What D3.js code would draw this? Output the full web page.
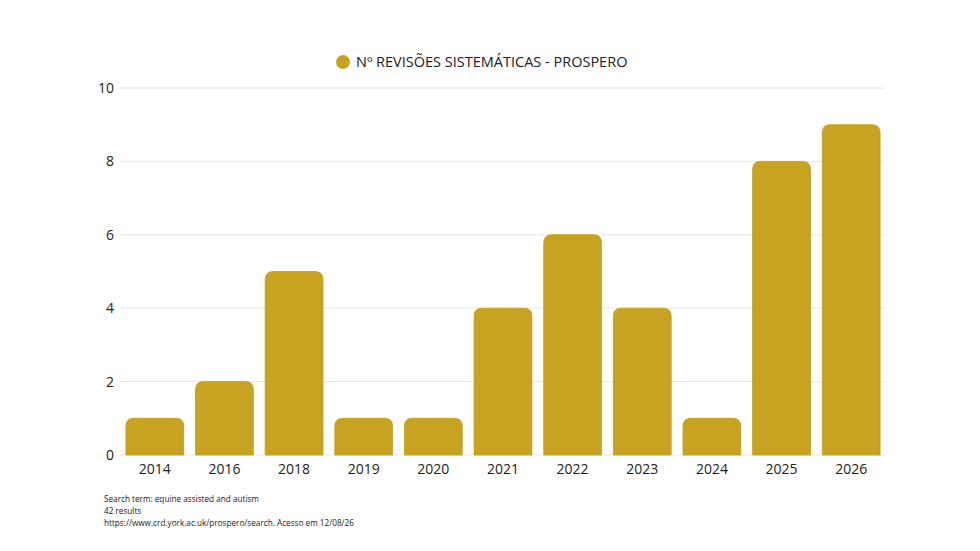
<!DOCTYPE html>
<html><head><meta charset="utf-8">
<script src="https://cdn.jsdelivr.net/npm/d3@7"></script>
<style>body{margin:0;background:#fff;font-family:"Open Sans",sans-serif;}</style>
</head><body><svg id="c" width="980" height="551"></svg>
<script>
const categories = ["2014","2016","2018","2019","2020","2021","2022","2023","2024","2025","2026"];
const values = [1,2,5,1,1,4,6,4,1,8,9];
const yTicks = [0,2,4,6,8,10];
const seriesName = "Nº REVISÕES SISTEMÁTICAS - PROSPERO";
const footer = ["Search term: equine assisted and autism","42 results","https://www.crd.york.ac.uk/prospero/search. Acesso em 12/08/26"];

const svg = d3.select("#c");
const color = "#C8A322";
const x = d3.scaleBand().domain(categories).range([120, 886]).paddingInner(0.17).paddingOuter(0.085);
const y = d3.scaleLinear().domain([0,10]).range([455, 88]);

svg.append("g").selectAll("line").data(yTicks).join("line")
  .attr("x1",120).attr("x2",885).attr("y1",d=>y(d)).attr("y2",d=>y(d))
  .attr("stroke","#e6e6e6").attr("stroke-width",1);

svg.append("g").selectAll("text").data(yTicks).join("text")
  .attr("x",114).attr("y",d=>y(d)).attr("dy","0.35em").attr("text-anchor","end")
  .attr("font-size",14).attr("fill","#222").text(d=>d);

function barPath(x0,y0,w,h,r){
  r=Math.min(r,h,w/2);
  return `M${x0},${y0+h}V${y0+r}Q${x0},${y0} ${x0+r},${y0}H${x0+w-r}Q${x0+w},${y0} ${x0+w},${y0+r}V${y0+h}Z`;
}
svg.append("g").selectAll("path").data(categories).join("path")
  .attr("d",(d,i)=>barPath(x(d), y(values[i]), x.bandwidth(), y(0)-y(values[i]), 8))
  .attr("fill",color).attr("stroke","#BF9A1E").attr("stroke-width",0.8);

svg.append("g").selectAll("text").data(categories).join("text")
  .attr("x",d=>x(d)+x.bandwidth()/2).attr("y",474).attr("text-anchor","middle")
  .attr("font-size",14).attr("fill","#222").text(d=>d);

const lg = svg.append("g");
lg.append("circle").attr("cx",343).attr("cy",62).attr("r",7).attr("fill",color);
lg.append("text").attr("x",356).attr("y",62).attr("dy","0.35em").attr("font-size",14.5).attr("fill","#222").text(seriesName);

svg.append("g").selectAll("text").data(footer).join("text")
  .attr("x",104).attr("y",(d,i)=>502+i*12).attr("font-size",8.2).attr("fill","#222").text(d=>d);
</script></body></html>
